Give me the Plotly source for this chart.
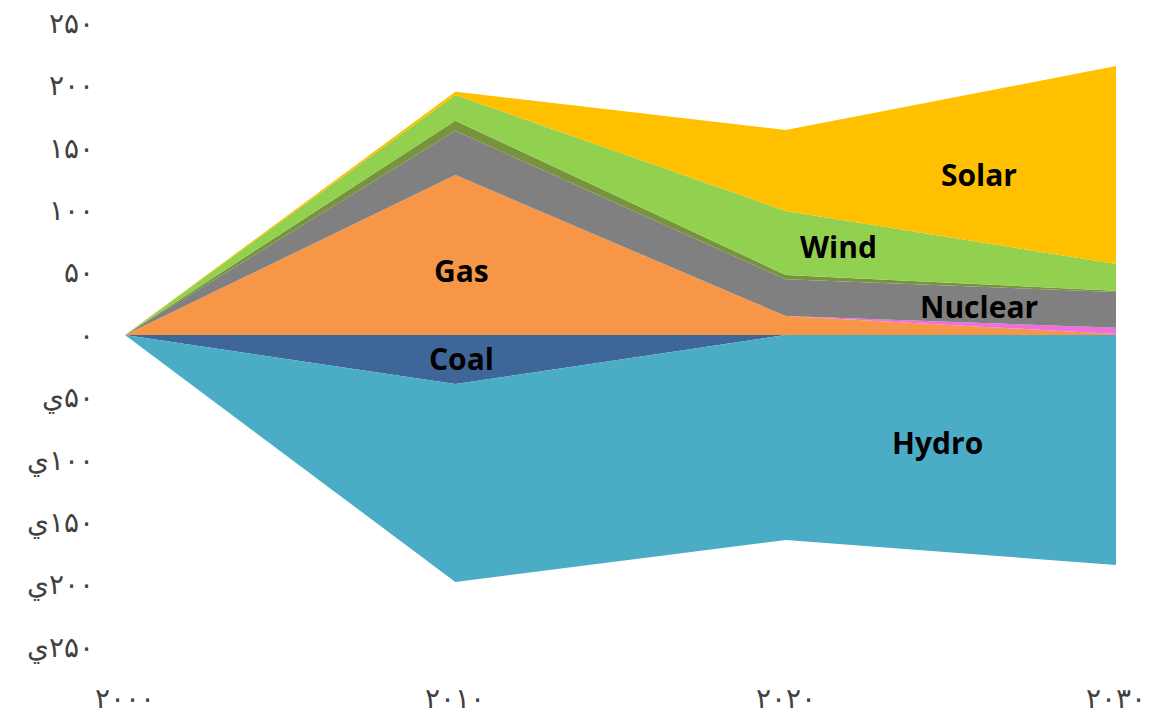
import plotly.graph_objects as go

# Years on the x axis and their printed labels
years = [2000, 2010, 2020, 2030]
year_labels = ["۲۰۰۰", "۲۰۱۰", "۲۰۲۰", "۲۰۳۰"]

# Net change by source (positive stack above zero)
gas = [0, 128.2, 15.2, 0.8]
other = [0, 0, 0, 5.0]
nuclear = [0, 35.5, 29.4, 28.7]
biomass = [0, 8.0, 3.5, 1.0]
wind = [0, 20.6, 51.3, 21.4]
solar = [0, 2.7, 64.9, 158.6]

# Sources that fall (negative stack below zero)
coal = [0, -39.3, 0, 0]
hydro = [0, -158.6, -164.3, -184.3]

# Y axis ticks and their printed labels (negatives carry a leading marker)
y_ticks = [-250, -200, -150, -100, -50, 0, 50, 100, 150, 200, 250]
y_labels = ["ي\u2066۲۵۰\u2069", "ي\u2066۲۰۰\u2069", "ي\u2066۱۵۰\u2069",
            "ي\u2066۱۰۰\u2069", "ي\u2066۵۰\u2069",
            "۰", "۵۰", "۱۰۰", "۱۵۰", "۲۰۰", "۲۵۰"]

positive = [
    ("Gas", gas, "#F79646"),
    ("Other", other, "#EE6FE0"),
    ("Nuclear", nuclear, "#808080"),
    ("Biomass", biomass, "#77933C"),
    ("Wind", wind, "#92D050"),
    ("Solar", solar, "#FFC000"),
]
negative = [
    ("Coal", coal, "#3F6699"),
    ("Hydro", hydro, "#4BACC6"),
]

fig = go.Figure()
for name, vals, color in positive:
    fig.add_trace(go.Scatter(
        x=years, y=vals, name=name, stackgroup="up", mode="none",
        fillcolor=color, hoverinfo="skip",
    ))
for name, vals, color in negative:
    fig.add_trace(go.Scatter(
        x=years, y=vals, name=name, stackgroup="down", mode="none",
        fillcolor=color, hoverinfo="skip",
    ))

# In-area source labels
labels = [
    ("Solar", 2025.85, 129),
    ("Wind", 2021.6, 71.3),
    ("Nuclear", 2025.85, 23.2),
    ("Gas", 2010.2, 51.3),
    ("Coal", 2010.2, -19.2),
    ("Hydro", 2024.6, -86.5),
]
for text, x, y in labels:
    fig.add_annotation(
        x=x, y=y, text=f"<b>{text}</b>", showarrow=False,
        font=dict(family="Open Sans", size=30, color="#000000"),
    )

tick_font = dict(family="Liberation Serif", size=28, color="#404040")

fig.update_layout(
    width=1166, height=713,
    margin=dict(l=125, r=50, t=23, b=66),
    paper_bgcolor="white", plot_bgcolor="white",
    showlegend=False,
    xaxis=dict(
        range=[2000, 2030], tickvals=years, ticktext=year_labels,
        showgrid=False, zeroline=False, showline=False, automargin=False,
        tickfont=tick_font, ticklabelstandoff=32,
    ),
    yaxis=dict(
        range=[-250, 250], tickvals=y_ticks, ticktext=y_labels,
        showgrid=False, zeroline=False, showline=False, automargin=False,
        tickfont=tick_font, ticklabelstandoff=30,
    ),
)

fig.write_html("out.html")
